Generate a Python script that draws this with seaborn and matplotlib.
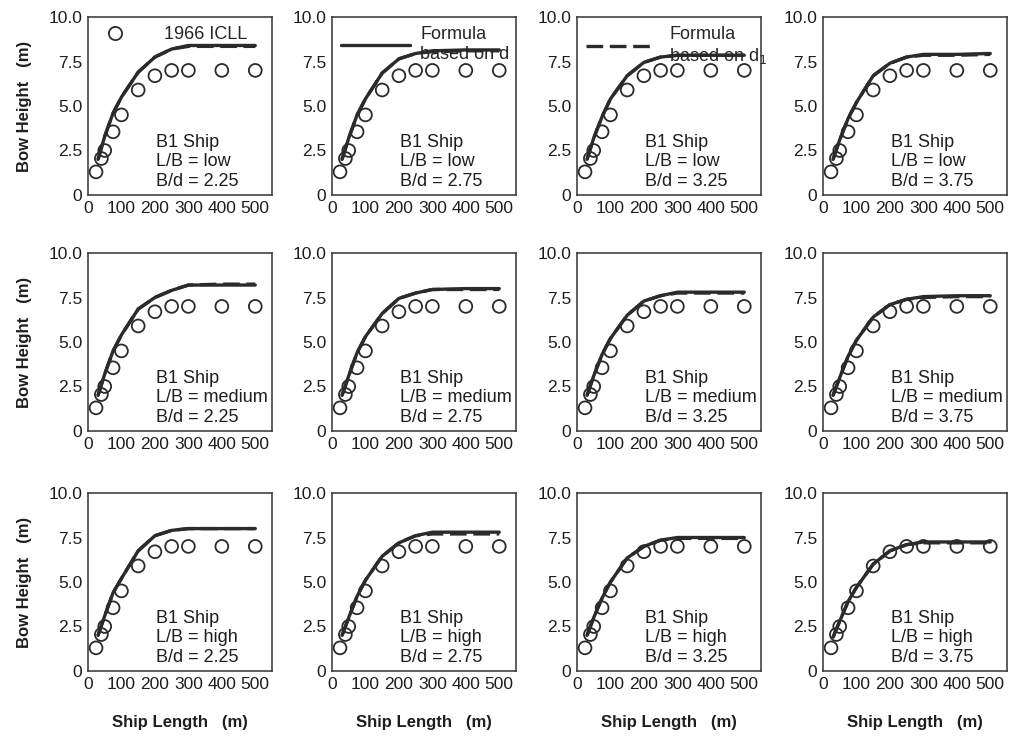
import matplotlib
matplotlib.use("Agg")
import matplotlib.pyplot as plt
from matplotlib.lines import Line2D
import seaborn as sns
import pandas as pd

# ---------------- data ----------------
icll_x = [24, 40, 50, 75, 100, 150, 200, 250, 300, 400, 500]
icll_y = [1.3, 2.05, 2.5, 3.55, 4.5, 5.9, 6.7, 7.0, 7.0, 7.0, 7.0]

curve_x = [30, 50, 75, 100, 150, 200, 250, 300, 400, 500]

lb_levels = ["low", "medium", "high"]
bd_levels = ["2.25", "2.75", "3.25", "3.75"]

# Formula based on d (solid)
d_low_225 = [2.0, 3.3, 4.6, 5.5, 6.9, 7.75, 8.2, 8.4, 8.4, 8.4]
d_low_275 = [2.0, 3.2, 4.5, 5.4, 6.85, 7.65, 7.95, 8.1, 8.15, 8.15]
d_low_325 = [2.0, 3.2, 4.4, 5.4, 6.7, 7.45, 7.75, 7.85, 7.85, 7.85]
d_low_375 = [2.0, 3.1, 4.3, 5.2, 6.7, 7.4, 7.75, 7.9, 7.9, 7.95]
d_med_225 = [2.0, 3.2, 4.5, 5.4, 6.85, 7.5, 7.9, 8.2, 8.2, 8.2]
d_med_275 = [2.0, 3.1, 4.4, 5.3, 6.6, 7.45, 7.75, 7.95, 8.0, 8.0]
d_med_325 = [2.0, 3.1, 4.3, 5.2, 6.5, 7.3, 7.6, 7.8, 7.8, 7.8]
d_med_375 = [2.0, 3.0, 4.2, 5.1, 6.4, 7.1, 7.4, 7.55, 7.6, 7.6]
d_high_225 = [2.0, 3.1, 4.4, 5.2, 6.75, 7.6, 7.9, 8.0, 8.0, 8.0]
d_high_275 = [2.0, 3.0, 4.2, 5.1, 6.45, 7.2, 7.6, 7.8, 7.8, 7.8]
d_high_325 = [2.0, 3.0, 4.1, 5.0, 6.35, 7.0, 7.35, 7.5, 7.5, 7.5]
d_high_375 = [1.9, 2.8, 3.9, 4.7, 6.0, 6.75, 7.1, 7.25, 7.25, 7.25]

# Formula based on d1 (dashed)
d1_low_225 = [2.0, 3.3, 4.6, 5.5, 6.9, 7.75, 8.2, 8.35, 8.35, 8.35]
d1_low_275 = [2.0, 3.2, 4.5, 5.4, 6.85, 7.65, 7.95, 8.05, 8.1, 8.1]
d1_low_325 = [2.0, 3.2, 4.4, 5.4, 6.7, 7.45, 7.75, 7.85, 7.85, 7.85]
d1_low_375 = [2.0, 3.1, 4.3, 5.2, 6.7, 7.4, 7.75, 7.85, 7.85, 7.9]
d1_med_225 = [2.0, 3.2, 4.5, 5.4, 6.85, 7.5, 7.9, 8.2, 8.25, 8.25]
d1_med_275 = [2.0, 3.1, 4.4, 5.3, 6.6, 7.45, 7.75, 7.95, 7.95, 7.95]
d1_med_325 = [2.0, 3.1, 4.3, 5.2, 6.5, 7.3, 7.6, 7.75, 7.75, 7.75]
d1_med_375 = [2.0, 3.0, 4.2, 5.1, 6.4, 7.1, 7.4, 7.5, 7.55, 7.55]
d1_high_225 = [2.0, 3.1, 4.4, 5.2, 6.75, 7.6, 7.9, 8.0, 8.0, 8.0]
d1_high_275 = [2.0, 3.0, 4.2, 5.1, 6.45, 7.2, 7.6, 7.7, 7.7, 7.7]
d1_high_325 = [2.0, 3.0, 4.1, 5.0, 6.35, 7.0, 7.35, 7.45, 7.45, 7.45]
d1_high_375 = [1.9, 2.8, 3.9, 4.7, 6.0, 6.75, 7.1, 7.2, 7.2, 7.2]

solid = [[d_low_225, d_low_275, d_low_325, d_low_375],
         [d_med_225, d_med_275, d_med_325, d_med_375],
         [d_high_225, d_high_275, d_high_325, d_high_375]]
dashed = [[d1_low_225, d1_low_275, d1_low_325, d1_low_375],
          [d1_med_225, d1_med_275, d1_med_325, d1_med_375],
          [d1_high_225, d1_high_275, d1_high_325, d1_high_375]]

x_ticks = [0, 100, 200, 300, 400, 500]
y_ticks = [0, 2.5, 5.0, 7.5, 10.0]
y_ticklabels = ["0", "2.5", "5.0", "7.5", "10.0"]

# ---------------- style ----------------
sns.set_theme(style="white")
plt.rcParams["font.family"] = ["Liberation Sans", "DejaVu Sans"]

W, H = 1012, 737
fig = plt.figure(figsize=(W / 100, H / 100), dpi=100)
fig.patch.set_facecolor("white")

col_left = [88, 332, 577, 823]
row_top = [17, 253, 493]
aw, ah = 184, 178
ink = "#2b2b2b"
txt = "#1e1e1e"

icll_df = pd.DataFrame({"L": icll_x, "h": icll_y})

axes = []
for r in range(3):
    for c in range(4):
        l = col_left[c] / W
        b = 1 - (row_top[r] + ah) / H
        ax = fig.add_axes([l, b, aw / W, ah / H])
        axes.append(ax)
        df = pd.DataFrame({"L": curve_x, "s": solid[r][c], "d": dashed[r][c]})
        sns.lineplot(data=df, x="L", y="d", ax=ax, color=ink, lw=2.4,
                     linestyle=(0, (5, 2)))
        sns.lineplot(data=df, x="L", y="s", ax=ax, color=ink, lw=2.4)
        sns.scatterplot(data=icll_df, x="L", y="h", ax=ax, marker="o",
                        s=85, facecolor="none", edgecolor=ink, linewidth=1.3)
        ax.set_xlim(0, 550)
        ax.set_ylim(0, 10)
        ax.set_xticks(x_ticks)
        ax.set_xticklabels([str(t) for t in x_ticks])
        ax.set_yticks(y_ticks)
        ax.set_yticklabels(y_ticklabels)
        ax.tick_params(length=0, labelsize=12.5, colors=txt, pad=4)
        for s in ax.spines.values():
            s.set_color("#333333")
            s.set_linewidth(1.1)
        ax.set_xlabel("")
        ax.set_ylabel("")
        ax.text(0.37, 0.03,
                f"B1 Ship\nL/B = {lb_levels[r]}\nB/d = {bd_levels[c]}",
                transform=ax.transAxes, fontsize=13, color=txt,
                ha="left", va="bottom", linespacing=1.18)
        if c == 0:
            ax.set_ylabel("Bow Height   (m)", fontsize=12, fontweight="bold",
                          color=txt, labelpad=12)
        if r == 2:
            ax.set_xlabel("Ship Length   (m)", fontsize=12, fontweight="bold",
                          color=txt, labelpad=17)

# legends
h1 = Line2D([], [], marker="o", ls="none", markersize=9.5,
            markerfacecolor="none", markeredgecolor=ink, markeredgewidth=1.3)
axes[0].legend([h1], ["1966 ICLL"], loc="upper left", frameon=False,
               fontsize=13, handlelength=1.0, handletextpad=2.2,
               borderaxespad=0.1, bbox_to_anchor=(0.05, 1.0))
h2 = Line2D([], [], color=ink, lw=2.4)
axes[1].legend([h2], ["Formula\nbased on d"], loc="upper left",
               frameon=False, fontsize=13, handlelength=3.8,
               handletextpad=0.6, borderaxespad=0.1, labelspacing=0.3,
               bbox_to_anchor=(0.0, 1.0))
h3 = Line2D([], [], color=ink, lw=2.4, linestyle=(0, (5, 2)))
axes[2].legend([h3], ["Formula\nbased on d$_1$"], loc="upper left",
               frameon=False, fontsize=13, handlelength=3.8,
               handletextpad=0.8, borderaxespad=0.1,
               bbox_to_anchor=(0.0, 1.0))

fig.savefig("out.png", dpi=100, facecolor="white")
